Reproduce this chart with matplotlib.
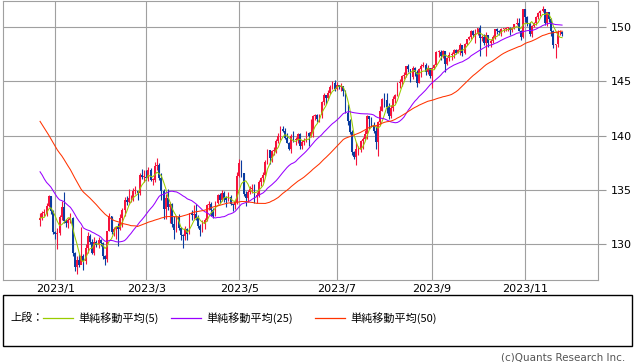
import numpy as np
import pandas as pd
import matplotlib
matplotlib.use('Agg')
import matplotlib.pyplot as plt
from matplotlib.lines import Line2D
from matplotlib.patches import Rectangle

# USD/JPY daily candles, 2022/12/22 - 2023/11/24
first_open = 132.2
close_px = [
    132.4, 132.9, 132.9, 133.5, 134.4, 133.0, 131.1,
    130.9, 131.0, 132.5, 133.4, 132.1, 131.9, 132.2, 132.4, 129.2, 127.9, 128.5, 128.1, 128.9, 128.4, 129.6, 130.7, 130.2, 129.2, 130.2, 129.9, 130.4, 130.1,
    128.9, 128.6, 131.2, 132.6, 131.1, 131.4, 131.6, 131.4, 132.4, 133.1, 134.1, 133.9, 134.2, 134.2, 134.9, 134.9, 134.7, 136.4, 136.2, 136.2,
    136.1, 136.8, 135.9, 135.9, 137.2, 137.3, 136.1, 134.9, 133.2, 134.2, 133.4, 133.7, 131.8, 131.3, 132.5, 131.5, 130.8, 130.7, 131.4, 130.9, 132.9, 132.7, 132.8,
    132.4, 131.7, 131.3, 131.8, 132.2, 133.6, 133.7, 133.1, 132.6, 133.8, 134.5, 134.1, 134.7, 134.2, 134.1, 134.3, 133.7, 133.6, 133.9, 136.3,
    137.5, 136.5, 134.6, 134.2, 134.8, 135.1, 135.2, 134.3, 134.5, 135.7, 136.1, 136.4, 137.6, 138.7, 137.9, 138.6, 138.6, 139.5, 140.0, 140.6, 140.4, 139.8, 139.3,
    138.8, 140.0, 139.6, 139.6, 140.1, 139.0, 139.4, 139.6, 140.2, 140.0, 140.3, 141.8, 141.9, 141.5, 141.9, 143.1, 143.7, 143.5, 143.9, 144.5, 144.8, 144.3,
    144.7, 144.5, 144.6, 144.1, 142.1, 141.3, 140.3, 138.5, 138.0, 138.8, 138.8, 139.5, 139.7, 140.1, 141.8, 141.5, 140.9, 140.4, 139.4, 141.2, 142.3,
    143.4, 143.3, 142.6, 141.8, 142.5, 143.4, 143.7, 144.8, 144.9, 145.5, 145.6, 146.4, 146.1, 145.4, 146.2, 145.9, 144.8, 146.1, 146.4, 146.5, 145.9, 146.2, 145.5,
    146.2, 146.5, 147.7, 147.7, 147.3, 147.8, 146.6, 147.1, 147.4, 147.5, 147.9, 147.6, 147.9, 148.3, 147.6, 148.4, 148.9, 149.1, 149.6, 149.3, 149.4,
    149.9, 149.0, 149.1, 148.5, 149.3, 148.5, 148.7, 149.1, 149.8, 149.6, 149.5, 149.8, 149.8, 149.9, 149.9, 149.7, 149.9, 150.3, 150.4, 149.6, 149.1, 151.7,
    150.9, 150.4, 149.4, 150.1, 150.4, 150.9, 151.3, 151.5, 151.7, 150.4, 151.4, 150.7, 149.6, 148.3, 148.4, 149.5, 149.5, 149.4,
]
high_px = [
    132.9, 133.0, 133.2, 133.8, 134.5, 134.4, 133.1,
    131.2, 131.5, 132.7, 134.0, 134.8, 132.3, 132.4, 132.9, 132.5, 129.3, 128.9, 129.1, 131.6, 129.1, 130.0, 131.1, 130.9, 130.5, 130.6, 130.4, 130.6, 130.5,
    130.2, 129.0, 131.2, 132.9, 132.6, 131.6, 131.7, 131.9, 132.8, 133.3, 134.3, 134.4, 135.1, 134.5, 135.2, 135.3, 134.9, 136.5, 136.9, 136.8,
    136.8, 137.1, 137.0, 136.1, 137.6, 137.9, 137.5, 136.5, 135.1, 134.6, 135.1, 133.9, 133.8, 132.6, 132.6, 132.8, 131.6, 130.9, 131.7, 131.5, 132.9, 133.1, 133.6,
    133.7, 132.7, 131.8, 132.2, 132.4, 133.7, 134.0, 133.9, 133.3, 134.0, 134.6, 134.7, 135.0, 134.9, 134.4, 134.8, 134.5, 133.7, 134.1, 136.6,
    137.8, 137.7, 136.5, 134.9, 135.0, 135.3, 135.5, 135.5, 134.8, 135.9, 136.2, 136.6, 137.7, 138.8, 138.7, 138.7, 138.9, 139.7, 140.2, 140.9, 140.9, 140.7, 140.2,
    139.4, 140.1, 140.4, 139.9, 140.2, 140.2, 139.6, 139.8, 140.4, 140.3, 141.5, 141.9, 142.0, 142.0, 142.0, 143.2, 143.9, 143.6, 144.2, 144.7, 145.0, 145.1,
    144.9, 144.7, 144.8, 144.6, 144.2, 142.9, 141.5, 140.5, 138.6, 139.4, 139.0, 139.6, 139.9, 140.5, 141.9, 141.8, 141.7, 141.2, 140.9, 141.3, 142.7,
    143.5, 143.9, 143.9, 143.0, 142.8, 143.6, 143.8, 144.9, 145.2, 145.6, 145.9, 146.4, 146.6, 146.1, 146.4, 146.3, 146.0, 146.2, 146.6, 146.8, 146.7, 146.5, 146.2,
    146.3, 146.6, 147.8, 147.9, 147.9, 147.9, 147.8, 147.2, 147.7, 147.7, 148.0, 148.0, 148.0, 148.5, 148.3, 148.5, 148.9, 149.2, 149.7, 149.7, 149.8,
    149.9, 150.2, 149.3, 149.4, 149.5, 149.2, 148.9, 149.3, 149.8, 149.9, 149.7, 149.9, 149.9, 150.0, 150.0, 150.0, 150.0, 150.3, 150.8, 150.8, 149.7, 151.7,
    151.7, 151.0, 150.5, 150.2, 150.5, 151.0, 151.4, 151.6, 151.9, 151.7, 151.4, 151.4, 150.8, 149.7, 148.4, 149.7, 149.7, 149.6,
]
low_px = [
    131.7, 132.2, 132.6, 132.6, 133.4, 132.8, 130.9,
    130.5, 129.5, 130.8, 132.2, 131.9, 131.6, 131.5, 131.9, 128.9, 127.5, 127.2, 127.9, 128.2, 127.6, 128.2, 129.2, 130.0, 129.1, 129.0, 129.7, 129.6, 129.8,
    128.6, 128.1, 128.3, 131.2, 130.9, 130.7, 130.5, 129.8, 131.3, 131.6, 132.6, 133.6, 133.8, 133.9, 134.0, 134.6, 134.1, 134.5, 136.0, 135.7,
    135.9, 135.8, 135.8, 135.4, 135.7, 136.8, 135.9, 134.1, 132.3, 132.3, 133.1, 131.9, 131.6, 130.5, 131.1, 131.3, 130.4, 129.6, 130.4, 130.4, 130.9, 132.2, 132.3,
    132.2, 131.5, 130.7, 131.1, 131.4, 132.1, 133.1, 132.6, 132.4, 132.6, 133.7, 133.8, 134.0, 133.9, 133.4, 134.0, 133.6, 133.0, 133.2, 133.7,
    136.2, 136.2, 134.4, 133.5, 133.9, 134.6, 134.7, 133.8, 133.8, 134.3, 135.3, 135.7, 136.3, 137.4, 137.4, 137.6, 138.2, 138.4, 139.3, 139.6, 140.3, 139.7, 139.3,
    138.7, 138.4, 139.4, 139.1, 139.3, 138.8, 138.8, 139.1, 139.4, 139.0, 139.9, 139.9, 141.4, 141.2, 141.2, 141.6, 142.8, 142.9, 143.3, 143.8, 144.3, 144.1,
    144.2, 144.3, 144.1, 143.6, 142.1, 141.0, 140.1, 138.2, 137.8, 137.3, 138.2, 138.5, 138.8, 139.6, 139.7, 140.6, 140.8, 140.2, 138.8, 138.1, 141.0,
    142.3, 142.6, 142.1, 141.5, 141.6, 142.3, 143.0, 143.6, 144.4, 144.6, 145.2, 145.4, 145.9, 144.9, 145.2, 145.5, 144.5, 144.8, 145.4, 146.3, 145.6, 145.7, 145.3,
    144.4, 146.1, 146.4, 147.2, 147.0, 147.1, 145.9, 146.5, 146.9, 147.0, 147.1, 147.5, 147.6, 147.4, 147.3, 147.5, 148.3, 148.8, 148.9, 149.1, 148.5,
    149.3, 147.3, 148.7, 148.3, 147.3, 148.2, 148.2, 148.5, 148.9, 149.4, 149.3, 149.2, 149.5, 149.6, 149.6, 149.3, 149.5, 149.8, 150.2, 149.6, 148.8, 149.0,
    150.5, 150.1, 149.2, 149.1, 150.0, 150.2, 150.7, 151.0, 151.4, 150.2, 150.1, 150.5, 149.2, 148.1, 147.1, 148.2, 149.3, 149.2,
]
# closes before the visible window, needed for the moving averages (estimated from where the MA lines start)
history_close = [
    147.2, 148.7, 149.0, 149.2, 149.9, 150.2, 147.7, 148.9, 148.0, 146.4, 146.3, 147.5, 148.7,
    148.2, 147.9, 148.2, 146.6, 146.6, 145.7, 146.4, 140.9, 138.8, 139.9, 139.3, 139.5, 140.3, 140.4, 142.1, 141.2, 139.6, 138.6, 139.2, 138.9, 138.7, 138.1,
    135.2, 134.2, 136.6, 136.8, 136.4, 136.4, 136.3, 137.5, 135.4, 135.3, 137.6, 132.6, 132.8, 131.7, 132.4,
]
ma_periods = [5, 25, 50]
ma_colors = ['#99cc00', '#9900ff', '#ff3300']
legend_labels = ['単純移動平均(5)', '単純移動平均(25)', '単純移動平均(50)']
month_ticks = [1, 3, 5, 7, 9, 11]
y_ticks = [130, 135, 140, 145, 150]

dates = pd.bdate_range('2022-12-22', '2023-11-24')
assert len(dates) == len(close_px) == len(high_px) == len(low_px), (len(dates), len(close_px), len(high_px), len(low_px))

open_px = np.array([first_open] + close_px[:-1])
close_arr = np.array(close_px)
x = np.arange(len(dates))

allClose = pd.Series(history_close + close_px)
maLines = {n: allClose.rolling(n).mean().iloc[len(history_close):].to_numpy() for n in ma_periods}

W, H = 638, 362
fig = plt.figure(figsize=(W / 100, H / 100), dpi=100)
ax = fig.add_axes([3 / W, (H - 280) / H, 595 / W, 279 / H])

upColor, downColor = '#f5143c', '#0a3ca0'
isUp = close_arr >= open_px
colors = np.where(isUp, upColor, downColor)

ax.vlines(x, low_px, high_px, colors=colors, linewidth=0.8, zorder=2)
bodyLow = np.minimum(open_px, close_arr)
bodyH = np.maximum(np.abs(close_arr - open_px), 0.08)
ax.bar(x, bodyH, bottom=bodyLow, width=0.85, color=colors, linewidth=0, zorder=3)

for n, c in zip(ma_periods, ma_colors):
    ax.plot(x, maLines[n], color=c, linewidth=0.75, zorder=4)

ax.set_xlim(-17.1, 257.6)
ax.set_ylim(126.68, 152.40)

tickPos = [int(np.argmax((dates.year == 2023) & (dates.month == m))) for m in month_ticks]
ax.set_xticks(tickPos)
ax.set_xticklabels([f'2023/{m}' for m in month_ticks])
ax.set_yticks(y_ticks)
ax.yaxis.tick_right()
ax.tick_params(axis='x', length=0, pad=3, labelsize=8, colors='#000000')
ax.tick_params(axis='y', length=6, width=0.8, pad=3, labelsize=8, color='#999999', labelcolor='#000000')
ax.grid(True, color='#a0a0a0', linewidth=0.8, zorder=0)
ax.set_axisbelow(True)
for sp in ax.spines.values():
    sp.set_color('#a0a0a0')
    sp.set_linewidth(0.8)

# legend box
fig.patches.append(Rectangle((3 / W, 1 - 346 / H), 629 / W, 51 / H, transform=fig.transFigure,
                             fill=False, edgecolor='black', linewidth=1.0))
jpFont = ['Noto Sans CJK JP', 'DejaVu Sans']
yLeg = 1 - 318 / H
fig.text(10 / W, yLeg, '上段：', fontsize=8, family=jpFont, va='center', ha='left')
lineStarts = [43, 171, 315]
for xs, c, lab in zip(lineStarts, ma_colors, legend_labels):
    fig.add_artist(Line2D([xs / W, (xs + 30) / W], [yLeg, yLeg], color=c, linewidth=0.9, transform=fig.transFigure))
    fig.text((xs + 35) / W, yLeg, lab, fontsize=8, family=jpFont, va='center', ha='left')

fig.text(625 / W, 1 - 358 / H, '(c)Quants Research Inc.', fontsize=7.5, color='#555555', ha='right', va='center')

fig.savefig('out.png', dpi=100)
